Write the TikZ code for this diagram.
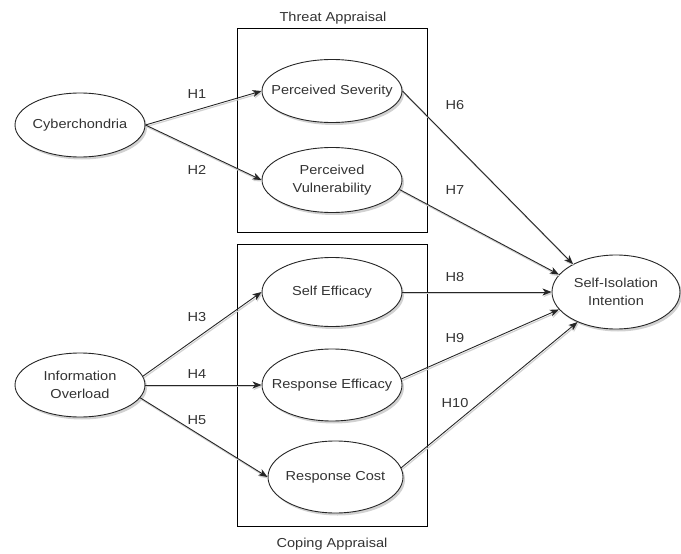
\documentclass[tikz,border=0pt]{standalone}
\usepackage{fontspec}
\setmainfont{Liberation Sans}[FakeStretch=1.12]
\usetikzlibrary{arrows.meta,shapes.geometric,shadows}
\begin{document}
\begin{tikzpicture}[x=1pt,y=-1pt,
  ell/.style={ellipse, draw=black!85, line width=0.9pt, fill=white, inner sep=0pt,
    drop shadow={shadow xshift=2pt, shadow yshift=-2.5pt, fill=black, opacity=0.18}},
  lbl/.style={font=\fontsize{13}{17.5}\selectfont, text=black!80, align=center, inner sep=0pt},
  grp/.style={rectangle, draw=black, line width=0.9pt, inner sep=0pt},
  arr/.style={draw=black!85, line width=0.9pt, -{Stealth[length=9pt,width=7pt,inset=2.5pt]},
    preaction={draw=black!18, line width=1.2pt, transform canvas={shift={(1pt,-1.6pt)}}}}
]
\useasboundingbox (0,0) rectangle (681,554);

% group boxes
\node[grp, minimum width=190pt, minimum height=204pt] (threat) at (332,130) {};
\node[grp, minimum width=190pt, minimum height=282pt] (coping) at (332,385) {};
\node[lbl] (tt) at (333,18) {Threat Appraisal};
\node[lbl] (ct) at (332,544) {Coping Appraisal};

% constructs
\node[ell, minimum width=130pt, minimum height=64pt, label={[lbl]center:Cyberchondria}] (cyb) at (80,125) {};
\node[ell, minimum width=130pt, minimum height=64pt, label={[lbl]center:Information\\Overload}] (info) at (80,385) {};
\node[ell, minimum width=140pt, minimum height=63pt, label={[lbl]center:Perceived Severity}] (ps) at (332,91) {};
\node[ell, minimum width=140pt, minimum height=65pt, label={[lbl]center:Perceived\\Vulnerability}] (pv) at (332,180) {};
\node[ell, minimum width=140pt, minimum height=69pt, label={[lbl]center:Self Efficacy}] (se) at (332,292) {};
\node[ell, minimum width=140pt, minimum height=72pt, label={[lbl]center:Response Efficacy}] (re) at (332,385) {};
\node[ell, minimum width=135pt, minimum height=72pt, label={[lbl]center:Response Cost}] (rc) at (335.5,477) {};
\node[ell, minimum width=128pt, minimum height=74pt, label={[lbl]center:Self-Isolation\\Intention}] (si) at (616,292) {};

% paths
\draw[arr] (cyb.east) -- (ps.west);
\draw[arr] (cyb.east) -- (pv.west);
\draw[arr] (info.8) -- (se.west);
\draw[arr] (info.east) -- (re.west);
\draw[arr] (info.-12) -- (rc.west);
\draw[arr] (ps.east) -- (si.147);
\draw[arr] (pv.-8) -- (si.163);
\draw[arr] (se.east) -- (si.west);
\draw[arr] (re.5) -- (si.197);
\draw[arr] (rc.8) -- (si.218);

% hypothesis labels
\node[lbl] (h1) at (197,94) {H1};
\node[lbl] (h2) at (197,170) {H2};
\node[lbl] (h3) at (197,317) {H3};
\node[lbl] (h4) at (197,374) {H4};
\node[lbl] (h5) at (197,420) {H5};
\node[lbl] (h6) at (455,105) {H6};
\node[lbl] (h7) at (455,190) {H7};
\node[lbl] (h8) at (455,277) {H8};
\node[lbl] (h9) at (455,338) {H9};
\node[lbl] (h10) at (455,403) {H10};
\end{tikzpicture}
\end{document}
